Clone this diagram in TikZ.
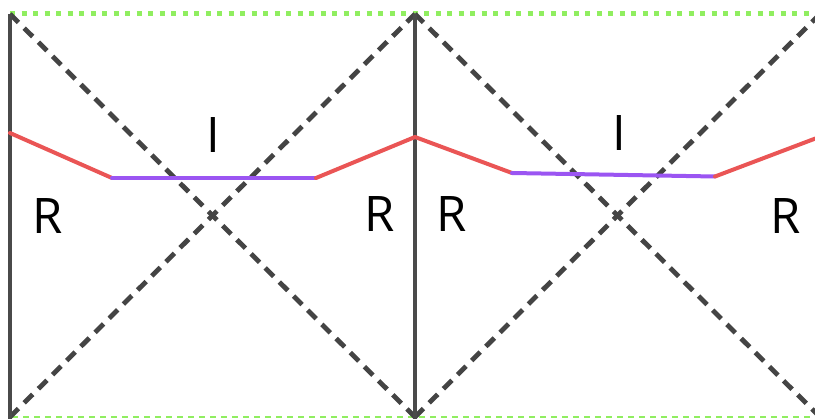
\documentclass[tikz,border=0pt]{standalone}
\usepackage{fontspec}
\setmainfont{Open Sans}
\definecolor{wall}{HTML}{4A4A4A}
\definecolor{dgray}{HTML}{444444}
\definecolor{redl}{HTML}{EA5555}
\definecolor{purp}{HTML}{9B55F2}
\definecolor{grn}{HTML}{90EE60}
\begin{document}
\begin{tikzpicture}[x=1pt,y=-1pt,
  wallline/.style={draw=wall,line width=3.6pt},
  diag/.style={draw=dgray,line width=4.8pt,dash pattern=on 12pt off 8pt},
  redseg/.style={draw=redl,line width=4pt,line cap=round,line join=round},
  purseg/.style={draw=purp,line width=4pt,line cap=round},
  topdots/.style={draw=grn,line width=5pt,dash pattern=on 5pt off 6.5pt},
  botdash/.style={draw=grn,line width=2pt,dash pattern=on 6pt off 5pt},
  lbl/.style={font=\fontsize{49}{49}\selectfont,inner sep=0pt,text=black}]
\useasboundingbox (0,0) rectangle (815,419);
% corners
\coordinate (TL) at (10,14);
\coordinate (BL) at (10,419);
\coordinate (TM) at (415,14);
\coordinate (BM) at (415,419);
\coordinate (TR) at (820,14);
\coordinate (BR) at (820,419);
\coordinate (BLd) at (10,417);
\coordinate (BMd) at (415,417);
\coordinate (BRd) at (820,417);
% green boundaries
\draw[topdots] (TL) -- (815,14);
\draw[botdash] (12,417) -- (815,417);
% dashed diagonals
\draw[diag] (TL) -- (BMd);
\draw[diag] (BLd) -- (TM);
\draw[diag] (TM) -- (BRd);
\draw[diag] (BMd) -- (TR);
% walls
\draw[wallline] (TL) -- (BL);
\draw[wallline] (TM) -- (BM);
% curve points
\coordinate (a0) at (10,133);
\coordinate (a1) at (112,178);
\coordinate (a2) at (316,178);
\coordinate (a3) at (415,137);
\coordinate (b1) at (512,173);
\coordinate (b2) at (715,176.5);
\coordinate (b3) at (822,136);
\draw[redseg] (a0) -- (a1);
\draw[purseg] (a1) -- (a2);
\draw[redseg] (a2) -- (a3) -- (b1);
\draw[purseg] (b1) -- (b2);
\draw[redseg] (b2) -- (b3);
% labels
\node[lbl] (i1) at (213,135) {I};
\node[lbl] (r1) at (48,216) {R};
\node[lbl] (r2) at (380,214) {R};
\node[lbl] (r3) at (452,214) {R};
\node[lbl] (i2) at (619,133) {I};
\node[lbl] (r4) at (786,216) {R};
\end{tikzpicture}
\end{document}
